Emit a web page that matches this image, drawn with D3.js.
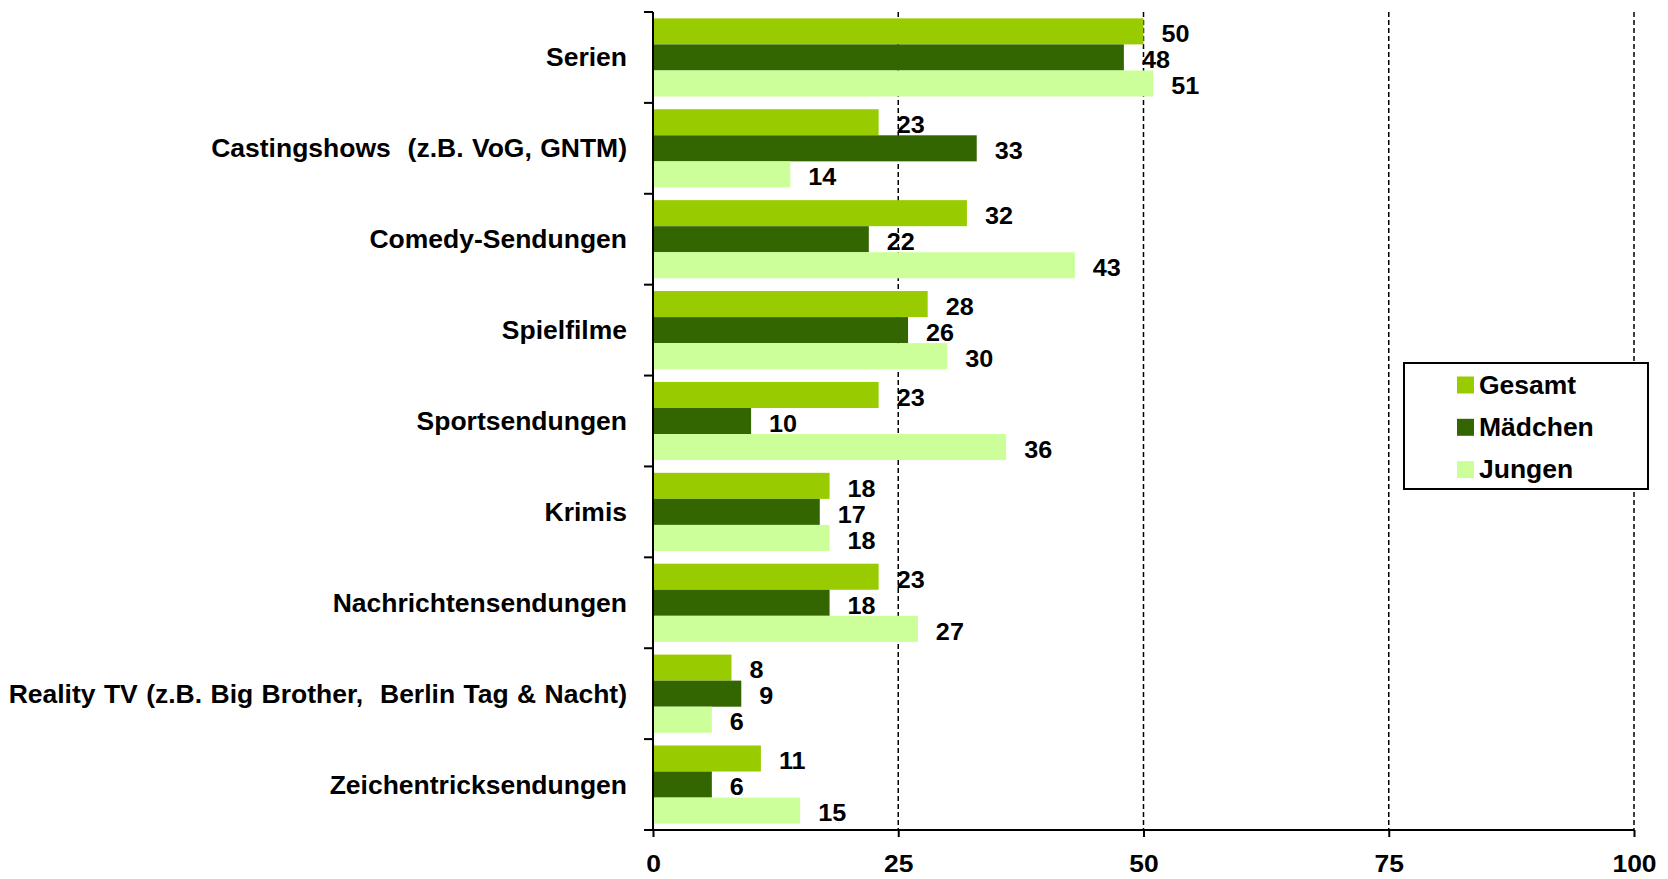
<!DOCTYPE html>
<html>
<head>
<meta charset="utf-8">
<script src="https://cdn.jsdelivr.net/npm/d3@7"></script>
<style>
  html, body { margin: 0; padding: 0; background: #fff; }
  svg { display: block; font-family: "Liberation Sans", Arial, sans-serif; font-weight: bold; }
</style>
</head>
<body>
<svg id="chart" width="1668" height="879"></svg>
<script>
// Genres watched on TV, in percent
const categories = [
  "Serien",
  "Castingshows  (z.B. VoG, GNTM)",
  "Comedy-Sendungen",
  "Spielfilme",
  "Sportsendungen",
  "Krimis",
  "Nachrichtensendungen",
  "Reality TV (z.B. Big Brother,  Berlin Tag & Nacht)",
  "Zeichentricksendungen"
];
const seriesNames = ["Gesamt", "Mädchen", "Jungen"];
const gesamt  = [50, 23, 32, 28, 23, 18, 23, 8, 11];
const maedchen = [48, 33, 22, 26, 10, 17, 18, 9, 6];
const jungen  = [51, 14, 43, 30, 36, 18, 27, 6, 15];
const xTicks = [0, 25, 50, 75, 100];
const colors = ["#99cc00", "#336600", "#ccff99"];

const seriesValues = [gesamt, maedchen, jungen];

const svg = d3.select("#chart");
const plotLeft = 653, plotRight = 1634, plotTop = 12, plotBottom = 830;

// widen glyphs horizontally around each text's anchor point
function stretch(sel, sx) {
  sel.each(function () {
    const t = d3.select(this);
    const x0 = +t.attr("x") || 0;
    t.attr("x", 0).attr("transform", `translate(${x0},0) scale(${sx},1)`);
  });
}

const x = d3.scaleLinear().domain([0, 100]).range([plotLeft, plotRight]);
const y = d3.scaleBand().domain(categories).range([plotTop, plotBottom]).paddingInner(0).paddingOuter(0);
const bw = y.bandwidth();
const ySub = d3.scaleBand().domain(seriesNames).range([bw * 0.07, bw * 0.93]).padding(0);

// dashed gridlines
svg.append("g")
  .selectAll("line")
  .data(xTicks.filter(d => d > 0))
  .join("line")
  .attr("x1", d => x(d)).attr("x2", d => x(d))
  .attr("y1", plotTop).attr("y2", plotBottom)
  .attr("stroke", "#000")
  .attr("stroke-width", 1.5)
  .attr("stroke-dasharray", "5,3");

// bars
const groups = svg.append("g")
  .selectAll("g")
  .data(categories)
  .join("g")
  .attr("transform", d => `translate(0,${y(d)})`);

groups.selectAll("rect")
  .data((c, i) => seriesNames.map((s, k) => ({ s, k, v: seriesValues[k][i] })))
  .join("rect")
  .attr("x", x(0))
  .attr("y", d => ySub(d.s))
  .attr("width", d => x(d.v) - x(0))
  .attr("height", ySub.bandwidth())
  .attr("fill", d => colors[d.k]);

// value labels
const valueLabels = groups.selectAll("text")
  .data((c, i) => seriesNames.map((s, k) => ({ s, k, v: seriesValues[k][i] })))
  .join("text")
  .attr("x", d => x(d.v) + 18)
  .attr("y", d => ySub(d.s) + ySub.bandwidth() / 2 + 2.5)
  .attr("dominant-baseline", "central")
  .attr("font-size", 24)
  .attr("fill", "#000")
  .text(d => d.v);
stretch(valueLabels, 1.05);

// category axis
const yAxis = svg.append("g")
  .attr("transform", `translate(${plotLeft},0)`)
  .call(d3.axisLeft(y).tickSize(0).tickPadding(26));
yAxis.select(".domain").attr("stroke", "#000").attr("stroke-width", 2).attr("d", `M0,${plotTop}V${plotBottom}`);
const catLabels = yAxis.selectAll("text")
  .attr("font-size", 25)
  .attr("font-family", "Liberation Sans, Arial, sans-serif")
  .attr("font-weight", "bold")
  .attr("fill", "#000")
  .attr("dy", "0.36em")
  .style("white-space", "pre")
  .style("word-spacing", "1px");
stretch(catLabels, 1.06);

// boundary ticks between categories
const bounds = categories.map(c => y(c)).concat([plotBottom]);
svg.append("g")
  .selectAll("line")
  .data(bounds)
  .join("line")
  .attr("x1", plotLeft - 9).attr("x2", plotLeft)
  .attr("y1", d => d).attr("y2", d => d)
  .attr("stroke", "#000").attr("stroke-width", 2);

// value axis
const xAxis = svg.append("g")
  .attr("transform", `translate(0,${plotBottom})`)
  .call(d3.axisBottom(x).tickValues(xTicks).tickSize(7).tickPadding(18).tickFormat(d3.format("d")));
xAxis.select(".domain").attr("stroke", "#000").attr("stroke-width", 2).attr("d", `M${plotLeft},0H${plotRight}`);
xAxis.selectAll(".tick line").attr("stroke", "#000").attr("stroke-width", 2);
const tickLabels = xAxis.selectAll("text")
  .attr("font-size", 24.5)
  .attr("font-family", "Liberation Sans, Arial, sans-serif")
  .attr("font-weight", "bold")
  .attr("fill", "#000");
stretch(tickLabels, 1.08);

// legend
const legend = svg.append("g").attr("transform", "translate(1404,363)");
legend.append("rect")
  .attr("width", 244).attr("height", 126)
  .attr("fill", "#fff").attr("stroke", "#000").attr("stroke-width", 2);
const items = legend.selectAll("g.item")
  .data(seriesNames)
  .join("g")
  .attr("class", "item")
  .attr("transform", (d, i) => `translate(0,${22 + i * 42.3})`);
items.append("rect")
  .attr("x", 53).attr("y", -8.5)
  .attr("width", 17).attr("height", 17)
  .attr("fill", (d, i) => colors[i]);
const legendText = items.append("text")
  .attr("x", 75).attr("y", 0)
  .attr("dominant-baseline", "central")
  .attr("font-size", 25)
  .attr("fill", "#000")
  .text(d => d);
stretch(legendText, 1.06);
</script>
</body>
</html>
